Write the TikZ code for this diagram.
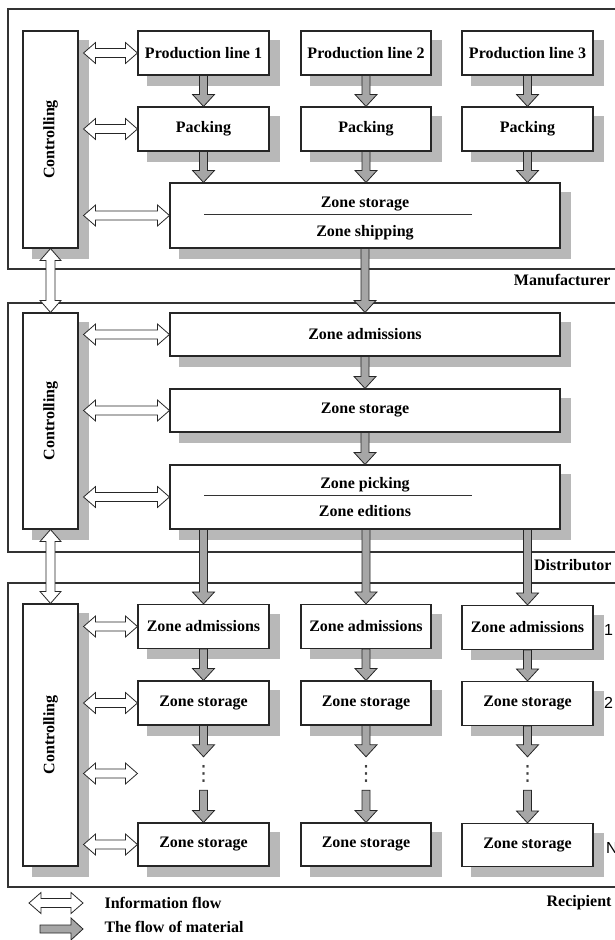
\documentclass[tikz,border=0pt]{standalone}
\usepackage{fontspec}
\setmainfont{Liberation Serif}
\newfontfamily\numfont{Liberation Sans}
\newfontfamily\dotsfont{DejaVu Sans}
\usepackage{graphicx}
\usepackage{tikz}
\usetikzlibrary{calc}
\usetikzlibrary{positioning}
\tikzset{>=latex}
\pgfdeclarelayer{background}
\pgfsetlayers{background,main}
\tikzstyle{box} = [rectangle, draw=black!85, line width=1.1pt, fill=white, inner sep=0pt, minimum width=131pt, minimum height=44pt]
\tikzstyle{shade} = [fill=black!28]
\tikzstyle{frame} = [draw=black!80, line width=1.1pt]
\tikzstyle{matflow} = [draw=black!85, fill=black!35, line width=0.8pt, line join=miter,
  to path={let \p1=(\tikztostart), \p2=(\tikztotarget), \n1={atan2(\y2-\y1,\x2-\x1)} in
    ($(\p1)+(\n1+90:4pt)$) -- ($(\p2)+(\n1+180:12pt)+(\n1+90:4pt)$)
    -- ($(\p2)+(\n1+180:12pt)+(\n1+90:11pt)$) -- (\p2)
    -- ($(\p2)+(\n1+180:12pt)+(\n1-90:11pt)$) -- ($(\p2)+(\n1+180:12pt)+(\n1-90:4pt)$)
    -- ($(\p1)+(\n1-90:4pt)$) -- cycle}]
\tikzstyle{infoflow} = [draw=black!85, fill=white, line width=0.8pt, line join=miter,
  to path={let \p1=(\tikztostart), \p2=(\tikztotarget), \n1={atan2(\y2-\y1,\x2-\x1)} in
    (\p1) -- ($(\p1)+(\n1:12pt)+(\n1+90:10.5pt)$) -- ($(\p1)+(\n1:12pt)+(\n1+90:4.5pt)$)
    -- ($(\p2)+(\n1+180:12pt)+(\n1+90:4.5pt)$) -- ($(\p2)+(\n1+180:12pt)+(\n1+90:10.5pt)$)
    -- (\p2) -- ($(\p2)+(\n1+180:12pt)+(\n1-90:10.5pt)$) -- ($(\p2)+(\n1+180:12pt)+(\n1-90:4.5pt)$)
    -- ($(\p1)+(\n1:12pt)+(\n1-90:4.5pt)$) -- ($(\p1)+(\n1:12pt)+(\n1-90:10.5pt)$) -- cycle}]
\tikzstyle{vdotsbox} = [inner sep=0pt, minimum height=33pt, text=black!75, font=\dotsfont\fontsize{21}{24}\selectfont]
\tikzstyle{numlabel} = [anchor=west, inner sep=0pt, font=\numfont\fontsize{16}{19}\selectfont]

\begin{document}
\begin{tikzpicture}[x=1pt, y=-1pt, font=\fontsize{16}{19}\selectfont\bfseries]
\useasboundingbox (0,0) rectangle (614,940);

% frames
\draw [frame] (8,9) rectangle (620,269);
\draw [frame] (8,303) rectangle (620,552);
\draw [frame] (8,583) rectangle (620,887);

% manufacturer
\node [box, minimum width=55pt, minimum height=217pt] (ctrlA) at (50.5,139.5) {\rotatebox{90}{Controlling}};
\node [box] (pl1) at (203.5,53) {Production line 1};
\node [box, minimum width=130pt] (pl2) at (366,53) {Production line 2};
\node [box] (pl3) at (527.5,53) {Production line 3};
\node [box] (pk1) at (203.5,129) {Packing};
\node [box, minimum width=130pt] (pk2) at (366,129) {Packing};
\node [box] (pk3) at (527.5,129) {Packing};
\node [box, minimum width=390pt, minimum height=65pt, align=center] (zsA) at (365,215.5) {\rule{0pt}{17pt}Zone storage\\[10pt]Zone shipping};
\draw [line width=0.8pt, black!80] (204,214) -- (472,214);
\node [anchor=east] (mfr) at (614,280) {Manufacturer};

% distributor
\node [box, minimum width=55pt, minimum height=216pt] (ctrlB) at (50.5,421) {\rotatebox{90}{Controlling}};
\node [box, minimum width=390pt, minimum height=43pt] (zaB) at (365,334.5) {Zone admissions};
\node [box, minimum width=390pt, minimum height=43pt] (ssB) at (365,410.5) {Zone storage};
\node [box, minimum width=390pt, minimum height=64pt, align=center] (zpB) at (365,497) {Zone picking\\[9pt]Zone editions};
\draw [line width=0.8pt, black!80] (204,495) -- (472,495);
\node [anchor=east] (dst) at (615,565) {Distributor};

% recipient
\node [box, minimum width=55pt, minimum height=262pt] (ctrlC) at (50.5,735) {\rotatebox{90}{Controlling}};
\node [box] (raA) at (203.5,626.5) {Zone admissions};
\node [box, minimum width=130pt] (raB) at (366,626.5) {Zone admissions};
\node [box] (raC) at (527.5,627.5) {Zone admissions};
\node [box] (rsA) at (203.5,703) {Zone storage};
\node [box, minimum width=130pt] (rsB) at (366,703) {Zone storage};
\node [box] (rsC) at (527.5,703.5) {Zone storage};
\node [vdotsbox] (dtA) at (203.5,773.5) {⋮};
\node [vdotsbox] (dtB) at (366,773.5) {⋮};
\node [vdotsbox] (dtC) at (527.5,773.5) {⋮};
\node [box, minimum height=43pt] (rnA) at (203.5,844.5) {Zone storage};
\node [box, minimum width=130pt, minimum height=43pt] (rnB) at (366,844.5) {Zone storage};
\node [box, minimum height=43pt] (rnC) at (527.5,845) {Zone storage};
\node [numlabel] (nr1) at (604,630) {1};
\node [numlabel] (nr2) at (604,703) {2};
\node [numlabel] (nrN) at (606,848) {N};
\node [anchor=east] (rcp) at (615,903) {Recipient};

% shadows
\begin{pgfonlayer}{background}
\foreach \n in {ctrlA, pl1, pl2, pl3, pk1, pk2, pk3, zsA, ctrlB, zaB, ssB, zpB, ctrlC, raA, raB, raC, rsA, rsB, rsC, rnA, rnB, rnC}
  \fill [shade] ($(\n.north west)+(10,10)$) rectangle ($(\n.south east)+(10,10)$);
\end{pgfonlayer}

% flow of material
\foreach \a/\b in {pl1/pk1, pl2/pk2, pl3/pk3, zaB/ssB, ssB/zpB, raA/rsA, raB/rsB, raC/rsC, rsA/dtA, rsB/dtB, rsC/dtC, dtA/rnA, dtB/rnB, dtC/rnC}
  \draw [matflow] (\a.south) to (\a.south |- \b.north);
\foreach \a in {pk1, pk2, pk3}
  \draw [matflow] (\a.south) to (\a.south |- zsA.north);
\draw [matflow] (zsA.south) to (zsA.south |- zaB.north);
\foreach \b in {raA, raB, raC}
  \draw [matflow] (\b.north |- zpB.south) to (\b.north);

% information flow
\foreach \b in {pl1, pk1, zsA}
  \draw [infoflow] ($(ctrlA.east |- \b)+(5pt,0)$) to (\b.west);
\foreach \b in {zaB, ssB, zpB}
  \draw [infoflow] ($(ctrlB.east |- \b)+(5pt,0)$) to (\b.west);
\foreach \b in {raA, rsA, rnA}
  \draw [infoflow] ($(ctrlC.east |- \b)+(5pt,0)$) to (\b.west);
\draw [infoflow] ($(ctrlC.east |- dtA)+(5pt,0)$) to (raA.west |- dtA);
\draw [infoflow] (ctrlA.south) to (ctrlB.north);
\draw [infoflow] (ctrlB.south) to (ctrlC.north);

% legend
\coordinate (lgIa) at (29,903);
\coordinate (lgIb) at (83,903);
\coordinate (lgMa) at (40,929);
\coordinate (lgMb) at (83,929);
\draw [infoflow] (lgIa) to (lgIb);
\draw [matflow] (lgMa) to (lgMb);
\node [anchor=west] (lgI) at (101,903) {Information flow};
\node [anchor=west] (lgM) at (101,927) {The flow of material};
\end{tikzpicture}
\end{document}
